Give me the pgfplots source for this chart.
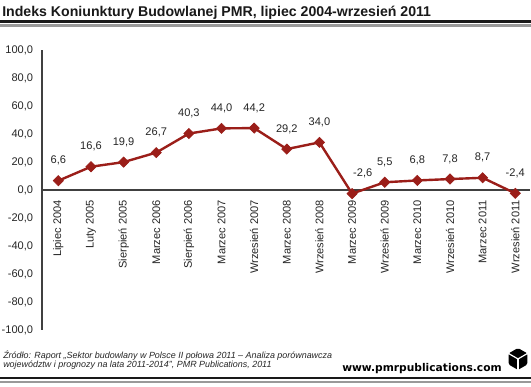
\documentclass[border=0pt]{standalone}
\usepackage{fontspec}
\setmainfont{Liberation Sans}
\newfontfamily\dejavu{DejaVu Sans}
\usepackage{pgfplots}
\usepackage{pgfplotstable}
\pgfplotsset{compat=1.18}
\definecolor{pmrred}{RGB}{155,30,25}
\pgfplotstableread{
x y dx
0 6.6 0
1 16.6 0
2 19.9 0
3 26.7 0
4 40.3 0
5 44.0 0
6 44.2 0
7 29.2 0
8 34.0 0
9 -2.6 8
10 5.5 0
11 6.8 0
12 7.8 0
13 8.7 0
14 -2.4 0
}\data
\begin{document}
\begin{tikzpicture}
\fill[white] (-200pt,-200pt) rectangle (700pt,600pt);
\begin{axis}[
  name=ax, scale only axis,
  width=366pt, height=210pt,
  xmin=-0.5, xmax=14.45, ymin=-100, ymax=100,
  axis x line=middle, axis y line=left,
  axis line style={-, draw=black!75, line width=0.9pt},
  ytick={-100,-80,...,100},
  yticklabel={\pgfmathprintnumber[fixed,fixed zerofill,precision=1,use comma,assume math mode=true]{\tick}},
  xtick={0,...,14},
  xticklabels={Lipiec 2004, Luty 2005, Sierpień 2005, Marzec 2006, Sierpień 2006, Marzec 2007, Wrzesień 2007, Marzec 2008, Wrzesień 2008, Marzec 2009, Wrzesień 2009, Marzec 2010, Wrzesień 2010, Marzec 2011, Wrzesień 2011},
  major tick length=0pt,
  tick label style={font=\fontsize{8.3}{10}\selectfont, text=black!85},
  xticklabel style={rotate=90, anchor=east, inner xsep=7.5pt},
  yticklabel style={inner xsep=6.5pt},
  clip=false,
]
\addplot[pmrred, line width=1.8pt, mark=square*, mark size=2.7pt,
  mark options={rotate=45, line width=0.5pt, fill=pmrred},
  point meta=y,
  nodes near coords={\pgfmathprintnumber[fixed,fixed zerofill,precision=1,use comma,assume math mode=true]{\pgfplotspointmeta}},
  nodes near coords align={anchor=south},
  visualization depends on={\thisrow{dx}\as\dx},
  every node near coord/.append style={font=\fontsize{8.3}{10}\selectfont, text=black!85, xshift=\dx pt, yshift=8pt}]
  table[x=x,y=y]{\data};
% page corners
\coordinate (bl) at (axis cs:-1.787,-140.71);
\coordinate (tr) at (axis cs:14.482,135.71);
% title and rules
\node[anchor=base west, inner sep=0, font=\fontsize{10.6}{12}\selectfont\bfseries, text=black!90] at (axis cs:-1.725,123.57) {Indeks Koniunktury Budowlanej PMR, lipiec 2004-wrzesień 2011};
\fill[black!90] (axis cs:-1.787,119.48) rectangle (axis cs:14.482,121.76);
\fill[black!40] (axis cs:-1.787,116.71) rectangle (axis cs:14.482,118.43);
% footer
\node[anchor=base west, inner sep=0, font=\fontsize{6.7}{8}\selectfont\itshape, text=black!85] at (axis cs:-1.695,-120.71) {Źródło: Raport „Sektor budowlany w Polsce II połowa 2011 – Analiza porównawcza};
\node[anchor=base west, inner sep=0, font=\fontsize{6.7}{8}\selectfont\itshape, text=black!85] at (axis cs:-1.695,-127.14) {województw i prognozy na lata 2011-2014”, PMR Publications, 2011};
\node[anchor=base east, inner sep=0, font=\dejavu\fontsize{8}{9}\selectfont\bfseries] at (axis cs:13.593,-130.0) {www.pmrpublications.com};
\fill[black!90] (axis cs:-1.787,-135.34) rectangle (axis cs:14.482,-133.52);
\fill[black!40] (axis cs:-1.787,-138.19) rectangle (axis cs:14.482,-136.76);
\coordinate (logo) at (axis cs:14.083,-120.71);
\end{axis}
% logo
\begin{scope}[shift={(logo)}]
\fill[black, rounded corners=1.2pt] (90:8.2pt) -- (30:8.2pt) -- (-30:8.2pt) -- (-90:8.2pt) -- (-150:8.2pt) -- (150:8.2pt) -- cycle;
\draw[white, line width=0.9pt] (150:8.2pt) -- (0,0) -- (30:8.2pt);
\draw[white, line width=0.9pt] (0,0) -- (-90:8.2pt);
\end{scope}
\pgfresetboundingbox
\useasboundingbox (bl) rectangle (tr);
\end{tikzpicture}
\end{document}
